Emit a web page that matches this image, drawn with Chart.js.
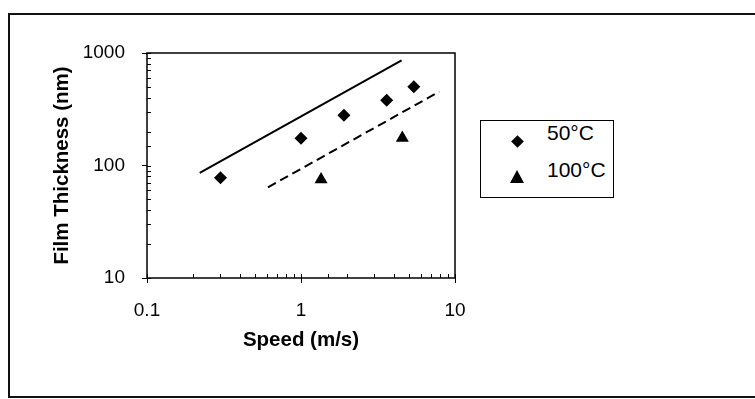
<!DOCTYPE html>
<html>
<head>
<meta charset="utf-8">
<script src="https://cdn.jsdelivr.net/npm/chart.js@4.4.1/dist/chart.umd.min.js"></script>
<style>
  body { margin: 0; background: #fff; }
  #wrap { position: relative; width: 755px; height: 399px; overflow: hidden; background: #fff; }
  #filmChart { position: absolute; left: 0; top: 0; }
  #frame { position: absolute; left: 8px; top: 13px; width: 800px; height: 381px;
           border-left: 2px solid #111; border-top: 2px solid #111; border-bottom: 2px solid #111; }
  #legend { position: absolute; left: 480px; top: 120px; width: 132px; height: 76px;
            border: 1px solid #000; background: #fff;
            font-family: 'Liberation Sans', Arial, sans-serif; font-size: 21px; line-height: 21px; color: #000; }
  #legend .txt { position: absolute; left: 66px; white-space: nowrap; }
  #legend .diamond { position: absolute; width: 9px; height: 9px; background: #000; transform: rotate(45deg); }
  #legend .triangle { position: absolute; width: 0; height: 0; border-left: 7px solid transparent;
                      border-right: 7px solid transparent; border-bottom: 13px solid #000; }
</style>
</head>
<body>
<div id="wrap">
  <div id="frame"></div>
  <canvas id="filmChart" width="755" height="399"></canvas>
  <div id="legend"></div>
</div>
<script>
// measured points
var speed50 = [0.3, 1.0, 1.9, 3.6, 5.4];
var film50 = [78, 175, 280, 380, 500];
var speed100 = [1.35, 4.55];
var film100 = [75, 176];

// predicted lines (solid = 50°C, dashed = 100°C)
var lineSpeed50 = [0.22, 4.5];
var lineFilm50 = [86, 860];
var lineSpeed100 = [0.61, 7.9];
var lineFilm100 = [64, 453];

var seriesLabels = ['50°C', '100°C'];
var xTickLabels = ['0.1', '1', '10'];
var yTickLabels = ['10', '100', '1000'];

var fontFamily = "'Liberation Sans', Arial, sans-serif";

function toPoints(xs, ys) {
    return xs.map(function (v, i) { return { x: v, y: ys[i] }; });
}

function isMajor(v) {
    var l = Math.log10(v);
    return Math.abs(l - Math.round(l)) < 1e-6;
}

function labelFor(v, labels) {
    for (var i = 0; i < labels.length; i++) {
        if (Math.abs(Number(labels[i]) - v) < 1e-9 * Math.max(1, v)) return labels[i];
    }
    return '';
}

// plot box and the little inward minor ticks
var frameAndTicks = {
    id: 'frameAndTicks',
    beforeDatasetsDraw: function (chart) {
        var ctx = chart.ctx, a = chart.chartArea;
        var x = chart.scales.x, y = chart.scales.y;
        ctx.save();
        ctx.strokeStyle = '#000';
        ctx.lineWidth = 1.5;
        ctx.strokeRect(a.left, a.top, a.right - a.left, a.bottom - a.top);
        ctx.lineWidth = 1;
        ctx.beginPath();
        y.ticks.forEach(function (t) {
            var py = Math.round(y.getPixelForValue(t.value)) + 0.5;
            ctx.moveTo(a.left, py);
            ctx.lineTo(a.left + 4, py);
        });
        x.ticks.forEach(function (t) {
            var px = Math.round(x.getPixelForValue(t.value)) + 0.5;
            ctx.moveTo(px, a.bottom);
            ctx.lineTo(px, a.bottom - 4);
        });
        ctx.stroke();
        ctx.restore();
    }
};

var ctx = document.getElementById('filmChart').getContext('2d');

var filmChart = new Chart(ctx, {
    type: 'scatter',
    data: {
        datasets: [{
            label: seriesLabels[0],
            data: toPoints(speed50, film50),
            pointStyle: 'rectRot',
            pointRadius: 6.5,
            backgroundColor: '#000',
            borderColor: '#000',
            borderWidth: 0
        }, {
            label: seriesLabels[1],
            data: toPoints(speed100, film100),
            pointStyle: 'triangle',
            pointRadius: 7.5,
            backgroundColor: '#000',
            borderColor: '#000',
            borderWidth: 0
        }, {
            label: 'line 50',
            data: toPoints(lineSpeed50, lineFilm50),
            showLine: true,
            pointRadius: 0,
            borderColor: '#000',
            borderWidth: 2
        }, {
            label: 'line 100',
            data: toPoints(lineSpeed100, lineFilm100),
            showLine: true,
            pointRadius: 0,
            borderColor: '#000',
            borderWidth: 2,
            borderDash: [9, 5]
        }]
    },
    options: {
        responsive: false,
        animation: false,
        layout: { padding: { left: 46, top: 53, right: 300, bottom: 42 } },
        plugins: {
            legend: { display: false },
            tooltip: { enabled: false }
        },
        scales: {
            x: {
                type: 'logarithmic',
                min: 0.1,
                max: 10,
                afterFit: function (s) { s.height = 79; },
                border: { display: false },
                grid: {
                    drawOnChartArea: false,
                    tickLength: 5,
                    color: function (c) { return c.tick && isMajor(c.tick.value) ? '#000' : 'rgba(0,0,0,0)'; }
                },
                ticks: {
                    autoSkip: false,
                    maxRotation: 0,
                    padding: 16,
                    color: '#000',
                    font: { family: fontFamily, size: 19 },
                    callback: function (v) { return labelFor(v, xTickLabels); }
                },
                title: {
                    display: true,
                    text: 'Speed (m/s)',
                    color: '#000',
                    font: { family: fontFamily, size: 20.5, weight: 'bold' }
                }
            },
            y: {
                type: 'logarithmic',
                min: 10,
                max: 1000,
                afterFit: function (s) { s.width = 101; },
                border: { display: false },
                grid: {
                    drawOnChartArea: false,
                    tickLength: 5,
                    color: function (c) { return c.tick && isMajor(c.tick.value) ? '#000' : 'rgba(0,0,0,0)'; }
                },
                ticks: {
                    autoSkip: false,
                    padding: 17,
                    color: '#000',
                    font: { family: fontFamily, size: 19 },
                    callback: function (v) { return labelFor(v, yTickLabels); }
                },
                title: {
                    display: true,
                    text: 'Film Thickness (nm)',
                    color: '#000',
                    font: { family: fontFamily, size: 20.5, weight: 'bold' }
                }
            }
        }
    },
    plugins: [frameAndTicks]
});

// boxed legend to the right of the plot
var legend = document.getElementById('legend');
var shapes = ['diamond', 'triangle'];
var shapePos = [[31.5, 15.5], [29, 49]];
var textTop = [1, 38];
seriesLabels.forEach(function (lab, i) {
    var s = document.createElement('div');
    s.className = shapes[i];
    s.style.left = shapePos[i][0] + 'px';
    s.style.top = shapePos[i][1] + 'px';
    legend.appendChild(s);
    var t = document.createElement('div');
    t.className = 'txt';
    t.style.top = textTop[i] + 'px';
    t.textContent = lab;
    legend.appendChild(t);
});
</script>
</body>
</html>
